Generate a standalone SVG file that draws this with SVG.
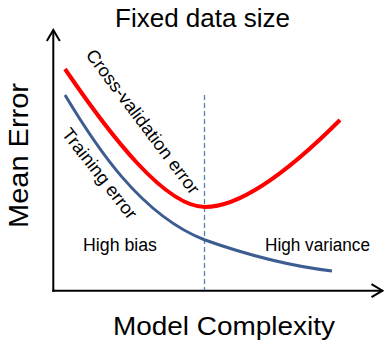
<svg xmlns="http://www.w3.org/2000/svg" width="384" height="342" viewBox="0 0 384 342">
  <style>
    .t { font-family: "Liberation Sans", Arial, sans-serif; fill: #000; }
    .axis { stroke: #000; stroke-width: 2; fill: none; }
  </style>
  <defs>
    <marker id="arr" markerUnits="userSpaceOnUse" markerWidth="16" markerHeight="16" viewBox="-13 -8 15 16" refX="0" refY="0" orient="auto">
      <path d="M-11,-6.5 L0,0 L-11,6.5" fill="none" stroke="#000" stroke-width="2"/>
    </marker>
  </defs>
  <rect width="384" height="342" fill="#fff"/>
  <g id="axes">
    <line class="axis" x1="53.3" y1="291.7" x2="53.3" y2="30" marker-end="url(#arr)"/>
    <line class="axis" x1="52.3" y1="290.7" x2="382.5" y2="290.7" marker-end="url(#arr)"/>
  </g>
  <g id="divider">
    <line x1="204.5" y1="95" x2="204.5" y2="290" stroke="#4f81bd" stroke-width="1.3" stroke-dasharray="5,3"/>
  </g>
  <g id="curves">
    <path id="cv" d="M65,69 C110,135 165,207 205,207 C245,207 300,160 340,120" fill="none" stroke="#ff0000" stroke-width="4"/>
    <path id="train" d="M65,95 C95,145 140,215 205,240 C250,256 290,266 332,271" fill="none" stroke="#3d5d91" stroke-width="3"/>
  </g>
  <g id="labels">
    <text class="t" x="202.5" y="26.7" font-size="26" text-anchor="middle" textLength="175" lengthAdjust="spacingAndGlyphs">Fixed data size</text>
    <text class="t" transform="translate(27.5,155.5) rotate(-90)" font-size="27" text-anchor="middle" textLength="145" lengthAdjust="spacingAndGlyphs">Mean Error</text>
    <text class="t" x="224" y="335" font-size="25.6" text-anchor="middle" textLength="222" lengthAdjust="spacingAndGlyphs">Model Complexity</text>
    <text class="t" transform="translate(85,55) rotate(53)" font-size="18" textLength="176" lengthAdjust="spacingAndGlyphs">Cross-validation error</text>
    <text class="t" transform="translate(61,134) rotate(52)" font-size="18" textLength="110" lengthAdjust="spacingAndGlyphs">Training error</text>
    <text class="t" x="83" y="251" font-size="18" textLength="74" lengthAdjust="spacingAndGlyphs">High bias</text>
    <text class="t" x="265" y="251" font-size="18" textLength="105" lengthAdjust="spacingAndGlyphs">High variance</text>
  </g>
</svg>
